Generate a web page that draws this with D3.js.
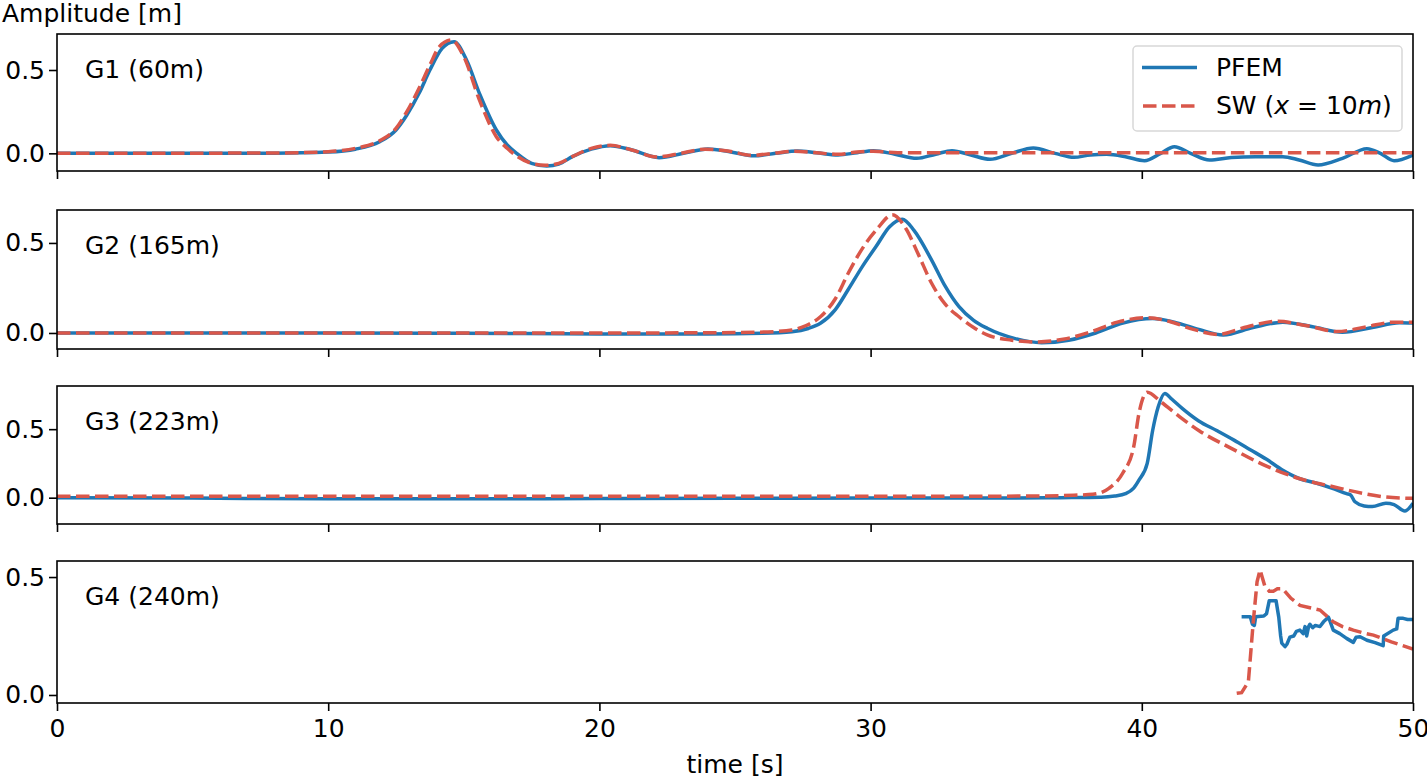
<!DOCTYPE html>
<html>
<head>
<meta charset="utf-8">
<script src="https://cdn.jsdelivr.net/npm/d3@7"></script>
<style>
  body { margin: 0; background: #fff; }
  svg { font-family: "DejaVu Sans", sans-serif; }
</style>
</head>
<body>
<div id="chart"></div>
<script>
// gauge names and series, [time s, amplitude m]
var gauges = ["G1 (60m)", "G2 (165m)", "G3 (223m)", "G4 (240m)"];
var xTicks = [0, 10, 20, 30, 40, 50];
var yTicks = [0.0, 0.5];
var seriesNames = ["PFEM", "SW"];

var g1Pfem = [[0,0],[5,0],[8,0.001],[10,0.008],[11,0.025],[11.9,0.07],[12.5,0.14],[12.9,0.23],[13.35,0.36],[13.75,0.5],[14.2,0.63],[14.64,0.67],[15.1,0.56],[15.6,0.35],[16.2,0.14],[16.6,0.05],[16.95,0.0],[17.5,-0.06],[18.06,-0.076],[18.5,-0.065],[19.0,-0.02],[19.7,0.025],[20.4,0.046],[21.2,0.02],[22.2,-0.026],[23.1,0.0],[24.0,0.026],[24.8,0.01],[25.7,-0.015],[26.5,0.0],[27.3,0.014],[28.0,0.003],[28.8,-0.01],[29.5,0.004],[30.1,0.016],[30.9,-0.005],[31.7,-0.03],[32.4,-0.005],[33.0,0.016],[33.7,-0.01],[34.4,-0.036],[35.2,0.0],[36.0,0.032],[36.8,0.0],[37.5,-0.024],[38.1,-0.01],[38.7,-0.006],[39.4,-0.02],[40.1,-0.044],[40.7,0.0],[41.2,0.04],[41.8,0.0],[42.5,-0.04],[43.3,-0.025],[44.2,-0.02],[45.2,-0.02],[45.8,-0.04],[46.5,-0.07],[47.4,-0.03],[48.3,0.028],[48.8,0.0],[49.3,-0.044],[50,-0.01]];
var g1Sw = [[0,0],[8,0.002],[10,0.01],[11,0.03],[11.9,0.075],[12.5,0.15],[12.9,0.25],[13.35,0.39],[13.75,0.53],[14.1,0.64],[14.55,0.68],[15.0,0.58],[15.6,0.31],[16.2,0.1],[16.6,0.03],[16.95,-0.016],[17.5,-0.06],[18.0,-0.072],[18.5,-0.06],[19.0,-0.02],[19.7,0.03],[20.4,0.048],[21.2,0.02],[22.1,-0.022],[23.0,0.0],[23.9,0.025],[24.8,0.012],[25.6,-0.012],[26.4,0.0],[27.2,0.013],[28.0,0.004],[28.8,-0.006],[29.5,0.008],[30.1,0.012],[31,0.004],[32,0.003],[35,0.004],[40,0.004],[50,0.004]];

var g2Pfem = [[0,0],[10,0],[15,-0.002],[20,-0.005],[24,-0.006],[26,-0.002],[27.1,0.007],[27.7,0.025],[28.15,0.054],[28.7,0.13],[29.17,0.24],[29.7,0.37],[30.2,0.48],[30.7,0.59],[31.17,0.632],[31.6,0.57],[32.25,0.405],[32.75,0.26],[33.26,0.146],[33.8,0.07],[34.3,0.026],[35.3,-0.03],[36.3,-0.054],[37.3,-0.04],[38.3,0.0],[39.3,0.055],[40.4,0.08],[41.2,0.06],[42.1,0.02],[43.0,-0.011],[44.1,0.03],[45.2,0.06],[46.3,0.035],[47.4,0.004],[48.5,0.03],[49.5,0.057],[50,0.055]];
var g2Sw = [[0,0],[20,0.0],[25,0.002],[26.5,0.008],[27.1,0.016],[27.6,0.04],[28.15,0.09],[28.7,0.19],[29.17,0.33],[29.7,0.47],[30.2,0.57],[30.8,0.656],[31.3,0.58],[31.75,0.44],[32.25,0.276],[32.75,0.16],[33.26,0.09],[33.8,0.03],[34.3,-0.011],[35.2,-0.04],[36.1,-0.05],[37.1,-0.035],[38.1,0.005],[39.1,0.06],[40.2,0.085],[41.0,0.065],[41.9,0.02],[42.8,-0.008],[43.9,0.035],[45.0,0.065],[46.1,0.04],[47.2,0.008],[48.3,0.035],[49.3,0.06],[50,0.06]];

var g3Pfem = [[0,0],[5,-0.003],[10,-0.008],[15,-0.008],[20,-0.006],[25,-0.005],[30,-0.003],[34.8,-0.003],[37,0.0],[38.5,0.003],[39.0,0.012],[39.4,0.03],[39.7,0.07],[39.9,0.13],[40.2,0.25],[40.4,0.49],[40.6,0.66],[40.85,0.76],[41.1,0.72],[41.5,0.65],[42.1,0.56],[42.76,0.49],[43.4,0.42],[44.0,0.35],[44.6,0.28],[45.2,0.2],[45.8,0.14],[46.45,0.105],[47.0,0.07],[47.55,0.03],[47.7,0.02],[47.86,-0.03],[48.2,-0.06],[48.5,-0.065],[49.0,-0.04],[49.3,-0.05],[49.7,-0.097],[50,-0.04]];
var g3Sw = [[0,0.01],[10,0.01],[20,0.01],[30,0.01],[36,0.012],[37.5,0.018],[38.2,0.025],[38.8,0.07],[39.3,0.18],[39.7,0.37],[39.9,0.62],[40.2,0.77],[40.7,0.7],[41.4,0.59],[42.1,0.49],[43.3,0.36],[44.6,0.23],[45.8,0.14],[47.06,0.08],[48.2,0.03],[49.0,0.005],[50,-0.005]];

var g4Pfem = [[43.68,0.332],[44.0,0.332],[44.08,0.3],[44.15,0.295],[44.2,0.332],[44.5,0.335],[44.6,0.345],[44.7,0.4],[44.95,0.4],[45.05,0.33],[45.12,0.25],[45.16,0.22],[45.28,0.205],[45.35,0.215],[45.46,0.245],[45.6,0.25],[45.7,0.27],[45.83,0.275],[45.95,0.26],[46.02,0.29],[46.08,0.25],[46.15,0.29],[46.2,0.3],[46.3,0.285],[46.4,0.295],[46.57,0.29],[46.7,0.31],[46.88,0.33],[46.95,0.31],[47.06,0.275],[47.3,0.26],[47.55,0.24],[47.8,0.223],[47.9,0.245],[48.05,0.247],[48.3,0.232],[48.6,0.222],[48.9,0.209],[48.92,0.25],[49.27,0.275],[49.4,0.28],[49.45,0.325],[49.64,0.325],[49.8,0.32],[50,0.32]];
var g4Sw = [[43.5,0.007],[43.68,0.01],[43.93,0.056],[44.11,0.31],[44.25,0.48],[44.36,0.53],[44.54,0.46],[44.7,0.44],[44.85,0.44],[45.0,0.45],[45.2,0.45],[45.5,0.41],[45.83,0.38],[46.2,0.37],[46.57,0.36],[47.06,0.31],[47.4,0.29],[47.8,0.275],[48.2,0.262],[48.54,0.254],[49.2,0.225],[50,0.195]];

var pfemSeries = [g1Pfem, g2Pfem, g3Pfem, g4Pfem];
var swSeries = [g1Sw, g2Sw, g3Sw, g4Sw];
var yDomains = [[-0.106, 0.716], [-0.089, 0.683], [-0.192, 0.815], [-0.034, 0.568]];

var W = 1427, H = 778;
var left = 57, right = 1413;
var panels = [[34, 171], [210, 349], [386, 524], [561, 703]];
var blue = "#1f77b4", red = "#d9574a";
var fs = 25;

var svg = d3.select("#chart").append("svg").attr("width", W).attr("height", H);

var x = d3.scaleLinear().domain([0, 50]).range([left, right]);

panels.forEach(function(p, i){
  var y = d3.scaleLinear().domain(yDomains[i]).range([p[1], p[0]]);
  var g = svg.append("g");

  var clipId = "clip" + i;
  svg.append("clipPath").attr("id", clipId)
    .append("rect").attr("x", left).attr("y", p[0]).attr("width", right - left).attr("height", p[1] - p[0]);

  var line = d3.line()
    .x(function(d){ return x(d[0]); })
    .y(function(d){ return y(d[1]); })
    .curve(i === 3 ? d3.curveLinear : d3.curveMonotoneX);

  g.append("path").datum(pfemSeries[i])
    .attr("clip-path", "url(#" + clipId + ")")
    .attr("d", line).attr("fill", "none")
    .attr("stroke", blue).attr("stroke-width", 3.5)
    .attr("stroke-linejoin", "round");

  g.append("path").datum(swSeries[i])
    .attr("clip-path", "url(#" + clipId + ")")
    .attr("d", line).attr("fill", "none")
    .attr("stroke", red).attr("stroke-width", 3.5)
    .attr("stroke-dasharray", "13.5,5.5");

  // axes
  var yAxis = d3.axisLeft(y).tickValues(yTicks).tickFormat(d3.format(".1f")).tickSizeOuter(0).tickSize(8).tickPadding(4);
  var ya = g.append("g").attr("transform", "translate(" + left + ",0)").call(yAxis);
  ya.select(".domain").remove();

  var xAxis = d3.axisBottom(x).tickValues(xTicks).tickSizeOuter(0).tickSize(8).tickPadding(8);
  if (i < 3) xAxis.tickFormat("");
  var xa = g.append("g").attr("transform", "translate(0," + p[1] + ")").call(xAxis);
  xa.select(".domain").remove();

  [ya, xa].forEach(function(a){
    a.selectAll("line").attr("stroke", "#000").attr("stroke-width", 1.6);
    a.selectAll("text").attr("font-size", fs).attr("fill", "#000")
      .attr("font-family", "DejaVu Sans, sans-serif");
  });

  g.append("rect").attr("x", left).attr("y", p[0])
    .attr("width", right - left).attr("height", p[1] - p[0])
    .attr("fill", "none").attr("stroke", "#000").attr("stroke-width", 1.6);

  g.append("text").attr("x", 85).attr("y", p[0] + 44)
    .attr("font-size", fs).text(gauges[i]);
});

// axis titles
svg.append("text").attr("x", 2).attr("y", 22).attr("font-size", fs).text("Amplitude [m]");
svg.append("text").attr("x", (left + right) / 2).attr("y", 773)
  .attr("text-anchor", "middle").attr("font-size", fs).text("time [s]");

// legend
var lg = svg.append("g");
lg.append("rect").attr("x", 1133).attr("y", 46).attr("width", 269).attr("height", 85)
  .attr("rx", 4).attr("fill", "#fff").attr("fill-opacity", 0.85)
  .attr("stroke", "#d8d8d8").attr("stroke-width", 1.5);
lg.append("line").attr("x1", 1142).attr("x2", 1197).attr("y1", 67.5).attr("y2", 67.5)
  .attr("stroke", blue).attr("stroke-width", 3.5);
lg.append("line").attr("x1", 1143).attr("x2", 1197).attr("y1", 106).attr("y2", 106)
  .attr("stroke", red).attr("stroke-width", 3.5).attr("stroke-dasharray", "13.5,5.5");
lg.append("text").attr("x", 1216).attr("y", 76).attr("font-size", fs).text(seriesNames[0]);
var t2 = lg.append("text").attr("x", 1216).attr("y", 114).attr("font-size", fs);
t2.append("tspan").text(seriesNames[1] + " (");
t2.append("tspan").attr("font-style", "italic").text("x");
t2.append("tspan").text(" = 10");
t2.append("tspan").attr("font-style", "italic").text("m");
t2.append("tspan").text(")");
</script>
</body>
</html>
